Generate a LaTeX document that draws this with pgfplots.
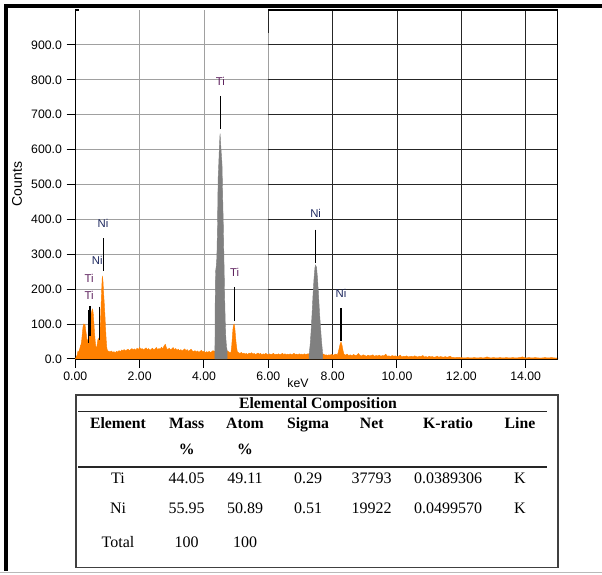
\documentclass[border=0pt]{standalone}
\usepackage{fontspec}
\setmainfont{Liberation Sans}
\newfontfamily\tabfont{Liberation Serif}
\usepackage{pgfplots}
\pgfplotsset{compat=1.18}
\definecolor{spec}{RGB}{255,128,0}
\definecolor{peak}{RGB}{128,128,128}
\definecolor{tic}{RGB}{95,35,95}
\definecolor{nic}{RGB}{30,40,95}
\definecolor{gridd}{RGB}{160,160,160}
\begin{document}
\begin{tikzpicture}[x=0.75pt,y=0.75pt,
  tb/.style={font={\tabfont\fontsize{12}{14}\selectfont}, inner sep=0pt, text height=8.2pt, text depth=0pt},
  th/.style={font={\tabfont\bfseries\fontsize{11.8}{14}\selectfont}, inner sep=0pt, text height=8.2pt, text depth=0pt},
  lab/.style={font={\fontsize{8.5}{9}\selectfont}, inner sep=0pt}]
\useasboundingbox (0,0) rectangle (602,574);
% outer frame
\draw[line width=2.6pt] (4.5,574-6) -- (602,574-6);
\draw[line width=2.6pt] (6,574-4.5) -- (6,574-571);
\draw[gray!55, line width=0.75pt] (0,574-572.5) -- (602,574-572.5);
\begin{axis}[
  at={(56.475pt,161.25pt)}, anchor=south west,
  scale only axis, width=361.9pt, height=261.75pt,
  xmin=0, xmax=15, ymin=0, ymax=1000,
  axis lines=left, axis line style={-, black, line width=0.9pt},
  xtick={0,2,...,14}, ytick={0,100,...,900},
  tick align=outside, major tick length=6.5pt,
  tick style={black, line width=0.75pt},
  grid=major, major grid style={gridd, line width=0.7pt},
  /pgf/number format/assume math mode=true,
  xticklabel style={/pgf/number format/.cd, fixed, fixed zerofill, precision=2},
  yticklabel style={/pgf/number format/.cd, fixed, fixed zerofill, precision=1},
  ticklabel style={font=\fontsize{9.2}{10}\selectfont},
  clip=false,
]
% dark grid portion (right part)
\draw[black!85, line width=0.7pt] (axis cs:8,0) -- (axis cs:8,1000);
\draw[black!85, line width=0.7pt] (axis cs:10,0) -- (axis cs:10,1000);
\draw[black!85, line width=0.7pt] (axis cs:12,0) -- (axis cs:12,1000);
\draw[black!85, line width=0.7pt] (axis cs:14,0) -- (axis cs:14,1000);
\draw[black!85, line width=0.7pt] (axis cs:6,934) -- (axis cs:6,1000);
\draw[black!85, line width=0.7pt] (axis cs:6,100) -- (axis cs:15,100);
\draw[black!85, line width=0.7pt] (axis cs:6,200) -- (axis cs:15,200);
\draw[black!85, line width=0.7pt] (axis cs:6,300) -- (axis cs:15,300);
\draw[black!85, line width=0.7pt] (axis cs:6,400) -- (axis cs:15,400);
\draw[black!85, line width=0.7pt] (axis cs:6,500) -- (axis cs:15,500);
\draw[black!85, line width=0.7pt] (axis cs:6,600) -- (axis cs:15,600);
\draw[black!85, line width=0.7pt] (axis cs:6,700) -- (axis cs:15,700);
\draw[black!85, line width=0.7pt] (axis cs:6,800) -- (axis cs:15,800);
\draw[black!85, line width=0.7pt] (axis cs:6,900) -- (axis cs:15,900);
% spectrum
\addplot[fill=spec, draw=spec, line width=0.3pt] table[row sep=\\] {
x y\\
0.00 0\\ 0.02 4\\ 0.04 8\\ 0.06 12\\ 0.08 22\\ 0.10 18\\ 0.12 25\\ 0.14 30\\ 0.16 38\\ 0.18 42\\
0.20 55\\ 0.22 75\\ 0.24 92\\ 0.26 100\\ 0.28 97\\ 0.30 100\\ 0.32 85\\ 0.34 72\\ 0.36 55\\ 0.38 48\\
0.40 60\\ 0.42 85\\ 0.44 105\\ 0.46 118\\ 0.48 125\\ 0.50 132\\ 0.52 140\\ 0.54 143\\ 0.56 128\\ 0.58 100\\
0.60 72\\ 0.62 50\\ 0.64 35\\ 0.66 30\\ 0.68 42\\ 0.70 55\\ 0.72 58\\ 0.74 60\\ 0.76 75\\ 0.78 98\\
0.80 150\\ 0.82 200\\ 0.84 238\\ 0.86 225\\ 0.88 190\\ 0.90 160\\ 0.92 128\\ 0.94 90\\ 0.96 55\\ 0.98 32\\
1.00 24\\ 1.04 22\\ 1.08 20\\ 1.12 23\\ 1.16 19\\ 1.20 21\\ 1.24 18\\ 1.28 22\\ 1.32 20\\ 1.36 24\\
1.40 21\\ 1.44 26\\ 1.48 24\\ 1.52 27\\ 1.56 23\\ 1.60 26\\ 1.64 28\\ 1.68 24\\ 1.72 27\\ 1.76 30\\
1.80 26\\ 1.84 29\\ 1.88 25\\ 1.92 31\\ 1.96 27\\ 2.00 33\\ 2.04 28\\ 2.08 30\\ 2.12 26\\ 2.16 29\\
2.20 32\\ 2.24 27\\ 2.28 30\\ 2.32 25\\ 2.36 28\\ 2.40 31\\ 2.44 26\\ 2.48 29\\ 2.52 33\\ 2.56 27\\
2.60 30\\ 2.64 28\\ 2.68 34\\ 2.72 29\\ 2.76 38\\ 2.80 42\\ 2.84 30\\ 2.88 27\\ 2.92 31\\ 2.96 26\\
3.00 29\\ 3.04 33\\ 3.08 27\\ 3.12 30\\ 3.16 25\\ 3.20 28\\ 3.24 24\\ 3.28 27\\ 3.32 23\\ 3.36 26\\
3.40 29\\ 3.44 24\\ 3.48 27\\ 3.52 22\\ 3.56 25\\ 3.60 28\\ 3.64 23\\ 3.68 21\\ 3.72 24\\ 3.76 20\\
3.80 23\\ 3.84 19\\ 3.88 22\\ 3.92 25\\ 3.96 20\\ 4.00 22\\ 4.04 18\\ 4.08 21\\ 4.12 19\\ 4.16 22\\
4.20 18\\ 4.24 21\\ 4.28 24\\ 4.32 22\\ 4.40 25\\ 4.60 25\\ 4.70 25\\ 4.74 22\\ 4.78 20\\ 4.82 18\\
4.84 20\\ 4.86 35\\ 4.88 60\\ 4.90 85\\ 4.92 98\\ 4.94 100\\ 4.96 88\\ 4.98 65\\ 5.00 45\\ 5.02 30\\
5.04 20\\ 5.08 18\\ 5.12 16\\ 5.16 19\\ 5.20 15\\ 5.24 17\\ 5.28 14\\ 5.32 16\\ 5.36 13\\ 5.40 17\\
5.44 15\\ 5.48 18\\ 5.52 14\\ 5.56 16\\ 5.60 13\\ 5.64 15\\ 5.68 17\\ 5.72 14\\ 5.76 16\\ 5.80 12\\
5.84 15\\ 5.88 13\\ 5.92 16\\ 5.96 14\\ 6.00 12\\ 6.04 15\\ 6.08 13\\ 6.12 14\\ 6.16 16\\ 6.20 12\\
6.24 14\\ 6.28 13\\ 6.32 15\\ 6.36 12\\ 6.40 14\\ 6.44 16\\ 6.48 13\\ 6.52 15\\ 6.56 12\\ 6.60 14\\
6.64 13\\ 6.68 15\\ 6.72 12\\ 6.76 14\\ 6.80 16\\ 6.84 13\\ 6.88 14\\ 6.92 12\\ 6.96 15\\ 7.00 13\\
7.04 14\\ 7.08 12\\ 7.12 15\\ 7.16 13\\ 7.20 14\\ 7.24 15\\ 7.40 15\\ 7.60 14\\ 7.72 14\\ 7.76 11\\
7.80 12\\ 7.84 10\\ 7.88 12\\ 7.92 11\\ 7.96 13\\ 8.00 12\\ 8.04 11\\ 8.08 14\\ 8.12 13\\ 8.14 10\\
8.17 18\\ 8.20 30\\ 8.23 42\\ 8.26 49\\ 8.29 40\\ 8.32 25\\ 8.35 14\\ 8.40 11\\ 8.45 14\\ 8.50 10\\
8.55 12\\ 8.60 9\\ 8.65 13\\ 8.70 10\\ 8.75 11\\ 8.80 16\\ 8.85 10\\ 8.90 9\\ 8.95 12\\ 9.00 10\\
9.05 8\\ 9.10 11\\ 9.15 9\\ 9.20 10\\ 9.25 12\\ 9.30 8\\ 9.35 10\\ 9.40 9\\ 9.45 11\\ 9.50 8\\
9.55 10\\ 9.60 9\\ 9.65 14\\ 9.70 8\\ 9.75 9\\ 9.80 7\\ 9.85 10\\ 9.90 8\\ 9.95 9\\ 10.00 7\\
10.05 8\\ 10.10 11\\ 10.15 6\\ 10.20 8\\ 10.25 7\\ 10.30 9\\ 10.35 6\\ 10.40 7\\ 10.45 8\\ 10.50 6\\
10.55 9\\ 10.60 7\\ 10.65 6\\ 10.70 8\\ 10.75 7\\ 10.80 10\\ 10.85 6\\ 10.90 7\\ 10.95 5\\ 11.00 8\\
11.05 6\\ 11.10 7\\ 11.15 5\\ 11.20 6\\ 11.25 8\\ 11.30 5\\ 11.35 7\\ 11.40 6\\ 11.45 5\\ 11.50 7\\
11.55 5\\ 11.60 6\\ 11.65 8\\ 11.70 5\\ 11.80 4\\ 11.90 5\\ 12.00 4\\ 12.10 3\\ 12.20 4\\ 12.30 3\\
12.40 4\\ 12.50 3\\ 12.60 4\\ 12.70 3\\ 12.80 6\\ 12.90 3\\ 13.00 4\\ 13.10 3\\ 13.20 4\\ 13.30 3\\
13.40 4\\ 13.50 3\\ 13.60 4\\ 13.70 3\\ 13.80 4\\ 13.90 6\\ 14.00 3\\ 14.10 4\\ 14.20 3\\ 14.30 4\\
14.40 3\\ 14.50 3\\ 14.60 4\\ 14.70 3\\ 14.80 4\\ 14.90 3\\ 15.00 3\\
} \closedcycle;
% Ti K-alpha peak (grey)
\addplot[fill=peak, draw=peak, line width=0.3pt] table[row sep=\\] {
x y\\
4.34 22\\ 4.35 180\\ 4.36 250\\ 4.38 265\\ 4.40 290\\ 4.42 380\\ 4.44 518\\ 4.46 560\\ 4.48 610\\ 4.50 646\\
4.52 615\\ 4.54 585\\ 4.56 560\\ 4.58 470\\ 4.60 388\\ 4.62 290\\ 4.64 190\\ 4.66 110\\ 4.68 60\\ 4.70 35\\ 4.72 25\\
} \closedcycle;
% Ni K-alpha peak (grey)
\addplot[fill=peak, draw=peak, line width=0.3pt] table[row sep=\\] {
x y\\
7.27 15\\ 7.30 40\\ 7.33 80\\ 7.36 130\\ 7.39 185\\ 7.42 230\\ 7.45 262\\ 7.47 269\\ 7.50 262\\ 7.53 230\\
7.56 185\\ 7.59 135\\ 7.62 95\\ 7.65 55\\ 7.68 25\\ 7.69 15\\
} \closedcycle;
% top and right border (right part only)
\draw[black, line width=0.9pt] (axis cs:6,1000) -- (axis cs:15,1000) -- (axis cs:15,0);
\draw[black, line width=0.9pt] (axis cs:0,1000) -- (axis cs:0.12,1000);
% peak markers
\draw[black, line width=0.9pt] (axis cs:4.51,754) -- (axis cs:4.51,660);
\node[lab, text=tic] at (axis cs:4.51,795) {Ti};
\draw[black, line width=0.9pt] (axis cs:4.95,205) -- (axis cs:4.95,108);
\node[lab, text=tic] at (axis cs:4.95,248) {Ti};
\draw[black, line width=0.9pt] (axis cs:7.47,371) -- (axis cs:7.47,275);
\node[lab, text=nic] at (axis cs:7.47,417) {Ni};
\draw[black, line width=0.9pt] (axis cs:8.26,146) -- (axis cs:8.26,52);
\node[lab, text=nic] at (axis cs:8.26,188) {Ni};
\draw[black, line width=0.9pt] (axis cs:0.87,346) -- (axis cs:0.87,252);
\node[lab, text=nic] at (axis cs:0.86,389) {Ni};
\draw[black, line width=0.9pt] (axis cs:0.74,150) -- (axis cs:0.74,54);
\node[lab, text=nic] at (axis cs:0.68,283) {Ni};
\draw[black, line width=0.9pt] (axis cs:0.41,141) -- (axis cs:0.41,46);
\draw[black, line width=0.9pt] (axis cs:0.46,152) -- (axis cs:0.46,65);
\node[lab, text=tic] at (axis cs:0.43,232) {Ti};
\node[lab, text=tic] at (axis cs:0.43,183) {Ti};
\end{axis}
% axis titles
\node[rotate=90, font=\fontsize{10.5}{12}\selectfont, inner sep=0pt] at (17,574-184) {Counts};
\node[font=\fontsize{9.2}{10}\selectfont, inner sep=0pt] at (298,574-383) {keV};
% table
\draw[black!75, line width=1.1pt] (76,574-395) rectangle (558,574-567.5);
\draw[black!85, line width=0.9pt] (78,574-411.7) -- (547,574-411.7);
\draw[black!85, line width=0.9pt] (78,574-467) -- (547,574-467);
\node[th] at (318,574-403) {Elemental Composition};
\node[th] at (118,574-423) {Element};
\node[th] at (186.7,574-423) {Mass};
\node[th] at (245,574-423) {Atom};
\node[th] at (308,574-423) {Sigma};
\node[th] at (371.7,574-423) {Net};
\node[th] at (448,574-423) {K-ratio};
\node[th] at (520,574-423) {Line};
\node[th] at (186.7,574-449) {\%};
\node[th] at (245,574-449) {\%};
\node[tb] at (118,574-478) {Ti};
\node[tb] at (186.7,574-478) {44.05};
\node[tb] at (245,574-478) {49.11};
\node[tb] at (308,574-478) {0.29};
\node[tb] at (371.7,574-478) {37793};
\node[tb] at (448,574-478) {0.0389306};
\node[tb] at (520,574-478) {K};
\node[tb] at (118,574-508) {Ni};
\node[tb] at (186.7,574-508) {55.95};
\node[tb] at (245,574-508) {50.89};
\node[tb] at (308,574-508) {0.51};
\node[tb] at (371.7,574-508) {19922};
\node[tb] at (448,574-508) {0.0499570};
\node[tb] at (520,574-508) {K};
\node[tb] at (118,574-542) {Total};
\node[tb] at (186.7,574-542) {100};
\node[tb] at (245,574-542) {100};
\end{tikzpicture}
\end{document}
